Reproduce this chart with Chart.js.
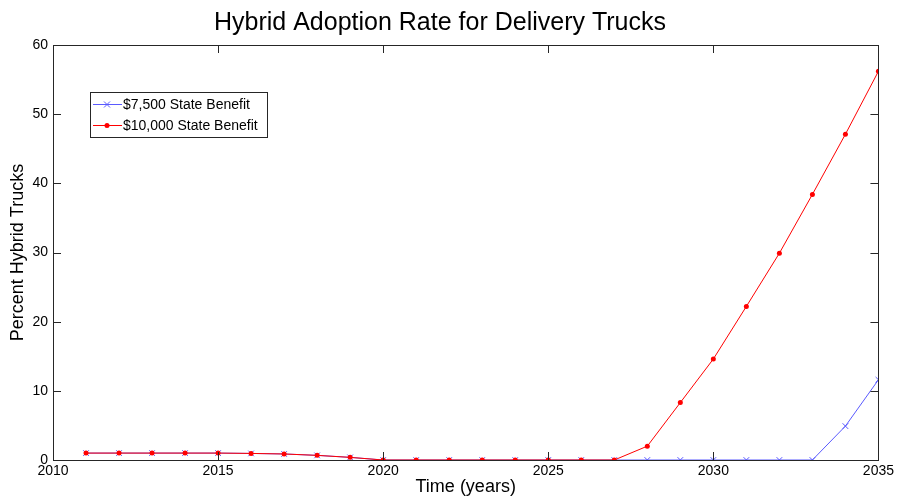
<!DOCTYPE html>
<html>
<head>
<meta charset="utf-8">
<script src="https://cdn.jsdelivr.net/npm/chart.js@4.4.1/dist/chart.umd.min.js"></script>
<style>
  html, body { margin: 0; padding: 0; background: #fff; }
  #wrap { width: 897px; height: 498px; }
</style>
</head>
<body>
<div id="wrap"><canvas id="adoptionChart" width="897" height="498"></canvas></div>
<script>
// years and adoption percentages
const years = [2011, 2012, 2013, 2014, 2015, 2016, 2017, 2018, 2019, 2020, 2021, 2022, 2023,
  2024, 2025, 2026, 2027, 2028, 2029, 2030, 2031, 2032, 2033, 2034, 2035];
const benefit7500 = [1.0, 1.0, 1.0, 1.0, 1.0, 0.95, 0.87, 0.67, 0.38, 0, 0, 0, 0,
  0, 0, 0, 0, 0, 0, 0, 0, 0, 0, 4.9, 11.6];
const benefit10000 = [1.0, 1.0, 1.0, 1.0, 1.0, 0.95, 0.87, 0.67, 0.38, 0, 0, 0, 0,
  0, 0, 0, 0, 2.0, 8.3, 14.6, 22.2, 29.9, 38.4, 47.1, 56.2];
const seriesNames = ['$7,500 State Benefit', '$10,000 State Benefit'];
const xTicks = [2010, 2015, 2020, 2025, 2030, 2035];
const yTicks = [0, 10, 20, 30, 40, 50, 60];

const FONT = "'Liberation Sans', Arial, sans-serif";

const toPoints = (vals) => years.map((y, i) => ({ x: y, y: vals[i] }));

// box around the plot with inward ticks on every side
const boxPlugin = {
  id: 'box',
  afterDatasetsDraw(chart) {
    const { ctx, chartArea: a, scales } = chart;
    const len = 8;
    ctx.save();
    ctx.strokeStyle = '#262626';
    ctx.lineWidth = 1;
    ctx.beginPath();
    xTicks.forEach(v => {
      const px = Math.round(scales.x.getPixelForValue(v)) + 0.5;
      ctx.moveTo(px, a.bottom); ctx.lineTo(px, a.bottom - len);
      ctx.moveTo(px, a.top); ctx.lineTo(px, a.top + len);
    });
    yTicks.forEach(v => {
      const py = Math.round(scales.y.getPixelForValue(v)) + 0.5;
      ctx.moveTo(a.left, py); ctx.lineTo(a.left + len, py);
      ctx.moveTo(a.right, py); ctx.lineTo(a.right - len, py);
    });
    ctx.stroke();
    ctx.strokeRect(Math.round(a.left) + 0.5, Math.round(a.top) + 0.5,
      Math.round(a.right - a.left), Math.round(a.bottom - a.top));
    ctx.restore();
  }
};

// legend box in the upper left of the plot
const legendPlugin = {
  id: 'boxLegend',
  afterDraw(chart) {
    const { ctx, chartArea: a } = chart;
    const x0 = a.left + 37, y0 = a.top + 47;
    const w = 177, h = 45;
    ctx.save();
    ctx.fillStyle = '#fff';
    ctx.fillRect(x0, y0, w, h);
    ctx.strokeStyle = '#262626';
    ctx.lineWidth = 1;
    ctx.strokeRect(x0 + 0.5, y0 + 0.5, w, h);
    ctx.font = '14px ' + FONT;
    ctx.textBaseline = 'middle';
    chart.data.datasets.forEach((ds, i) => {
      const cy = y0 + 12 + i * 21;
      ctx.strokeStyle = ds.borderColor;
      ctx.lineWidth = 1;
      ctx.beginPath();
      ctx.moveTo(x0 + 3, cy + 0.5); ctx.lineTo(x0 + 32, cy + 0.5);
      ctx.stroke();
      const mx = x0 + 17;
      if (ds.pointStyle === 'crossRot') {
        ctx.beginPath();
        ctx.moveTo(mx - 3, cy - 2.5); ctx.lineTo(mx + 3, cy + 3.5);
        ctx.moveTo(mx - 3, cy + 3.5); ctx.lineTo(mx + 3, cy - 2.5);
        ctx.stroke();
      } else {
        ctx.fillStyle = ds.pointBackgroundColor;
        ctx.beginPath();
        ctx.arc(mx, cy + 0.5, 2.5, 0, Math.PI * 2);
        ctx.fill();
      }
      ctx.fillStyle = '#000';
      ctx.fillText(ds.label, x0 + 33, cy + 1);
    });
    ctx.restore();
  }
};

const ctx = document.getElementById('adoptionChart').getContext('2d');

const adoptionChart = new Chart(ctx, {
  type: 'line',
  data: {
    datasets: [
      {
        label: seriesNames[0],
        data: toPoints(benefit7500),
        order: 1,
        borderColor: '#5a5aff',
        borderWidth: 1,
        pointStyle: 'crossRot',
        pointRadius: 4,
        pointBorderColor: '#5a5aff',
        pointBorderWidth: 1,
        pointBackgroundColor: '#5a5aff',
        tension: 0
      },
      {
        label: seriesNames[1],
        data: toPoints(benefit10000),
        order: 0,
        borderColor: '#ff0000',
        borderWidth: 1,
        pointStyle: 'circle',
        pointRadius: 2.5,
        pointBorderWidth: 0,
        pointBackgroundColor: '#ff0000',
        tension: 0
      }
    ]
  },
  options: {
    responsive: false,
    animation: false,
    layout: { padding: { left: 0, right: 17, top: 0, bottom: 0 } },
    plugins: {
      legend: { display: false },
      tooltip: { enabled: false },
      title: {
        display: true,
        text: 'Hybrid Adoption Rate for Delivery Trucks',
        color: '#000',
        font: { family: FONT, size: 25, weight: 'normal' },
        padding: { top: 8, bottom: 7 }
      }
    },
    scales: {
      x: {
        type: 'linear',
        min: 2010,
        max: 2035,
        afterBuildTicks: (s) => { s.ticks = xTicks.map(v => ({ value: v })); },
        afterFit: (s) => { s.height = 38; },
        grid: { display: false, drawTicks: false },
        border: { display: false },
        ticks: {
          color: '#000',
          padding: 3,
          maxRotation: 0,
          font: { family: FONT, size: 14 },
          callback: (v) => String(v)
        },
        title: {
          display: true,
          text: 'Time (years)',
          color: '#000',
          font: { family: FONT, size: 18 },
          padding: { top: 0, bottom: 0 }
        }
      },
      y: {
        min: 0,
        max: 60,
        afterBuildTicks: (s) => { s.ticks = yTicks.map(v => ({ value: v })); },
        afterFit: (s) => { s.width = 53; },
        grid: { display: false, drawTicks: false },
        border: { display: false },
        ticks: {
          color: '#000',
          padding: 5,
          font: { family: FONT, size: 14 }
        },
        title: {
          display: true,
          text: 'Percent Hybrid Trucks',
          color: '#000',
          font: { family: FONT, size: 18 },
          padding: { top: 7, bottom: 0 }
        }
      }
    }
  },
  plugins: [boxPlugin, legendPlugin]
});
</script>
</body>
</html>
